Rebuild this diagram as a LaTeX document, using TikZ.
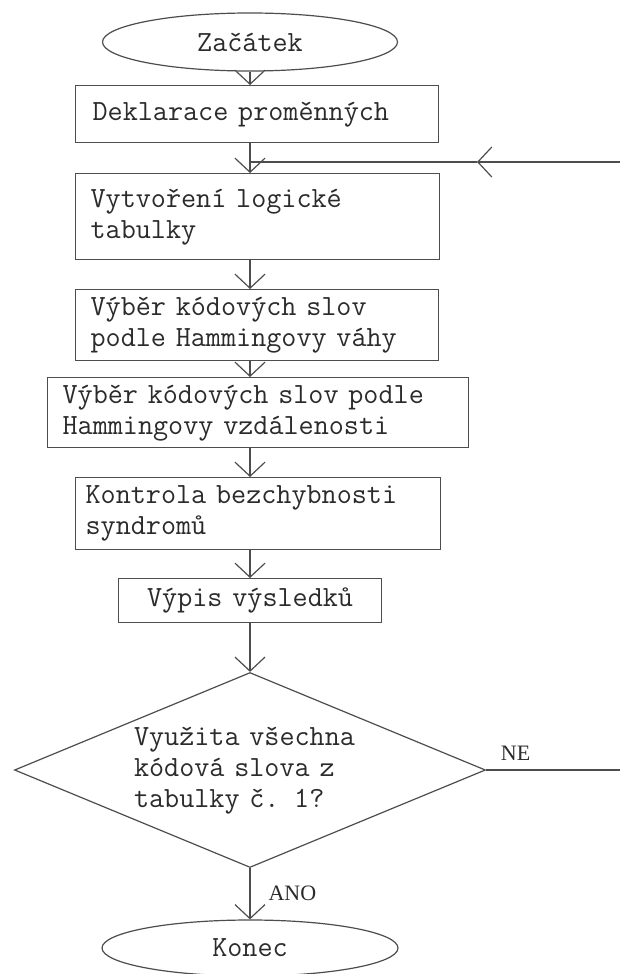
\documentclass[tikz,border=0pt]{standalone}
\usepackage{fontspec}
\setmainfont{Liberation Serif}
\usetikzlibrary{arrows.meta,shapes.geometric}
\definecolor{ink}{HTML}{2B2B2B}
\definecolor{edge}{HTML}{4D4D4D}
\begin{document}
\begin{tikzpicture}[x=1pt,y=-1pt,
  every node/.style={font=\ttfamily\fontsize{29.3}{31}\selectfont, text=ink},
  flowline/.style={draw=edge, line width=1.2pt},
  arr/.style={flowline, -{Straight Barb[length=14pt,width=30pt]}},
  stepbox/.style={draw=edge, line width=1.2pt, rectangle, anchor=north west,
    align=left, inner ysep=0pt},
  terminal/.style={draw=edge, line width=1.2pt, ellipse, inner sep=0pt},
  decision/.style={draw=edge, line width=1.2pt, diamond, inner sep=0pt,
    align=left, shape aspect=2.415},
  branch/.style={inner sep=0pt, font=\rmfamily\fontsize{22}{26}\selectfont}
]
\fill[white] (0,0) rectangle (620,974);
\useasboundingbox (0,0) rectangle (620,974);

% terminals, steps and the decision
\node[terminal, minimum width=295pt, minimum height=58pt] (start) at (250,42) {Začátek};
\node[stepbox, text width=329pt, inner xsep=17pt, minimum height=57pt] (decl) at (75,85)
  {Deklarace proměnných};
\node[stepbox, text width=334pt, inner xsep=15pt, minimum height=86pt] (table) at (75,173)
  {Vytvoření logické\\tabulky};
\node[stepbox, text width=333pt, inner xsep=15pt, minimum height=71pt] (weight) at (75,289)
  {Výběr kódových slov\\podle Hammingovy váhy};
\node[stepbox, text width=391pt, inner xsep=15pt, minimum height=70pt] (dist) at (47,377)
  {Výběr kódových slov podle\\Hammingovy vzdálenosti};
\node[stepbox, text width=345pt, inner xsep=10pt, minimum height=72pt] (synd) at (75,477)
  {Kontrola bezchybnosti\\syndromů};
\node[stepbox, align=center, text width=223pt, inner xsep=20pt, minimum height=44pt] (out) at (118,578)
  {Výpis výsledků};
\node[decision, minimum width=471pt, minimum height=195pt, text width=232pt] (dec) at (250,770)
  {Využita všechna\\kódová slova z\\tabulky č. 1?};
\node[terminal, minimum width=296pt, minimum height=56pt] (stop) at (250,948) {Konec};

% free ends of the loop back
\coordinate (ne) at (620,770);
\coordinate (fb) at (620,162);
\coordinate (fbtip) at (477,162);
\coordinate (join) at (250,162);

% main flow
\draw[arr] (start.south) -- (decl.north -| start);
\draw[arr] (decl.south -| start) -- (table.north -| start);
\draw[arr] (table.south -| start) -- (weight.north -| start);
\draw[arr] (weight.south -| start) -- (dist.north -| start);
\draw[arr] (dist.south -| start) -- (synd.north -| start);
\draw[arr] (synd.south -| start) -- (out.north -| start);
\draw[arr] (out.south -| start) -- (dec.north);
\draw[arr] (dec.south) -- node[branch, anchor=west, xshift=18pt] {ANO} (stop.north);

% loop back
\draw[flowline] (dec.east) -- node[branch, pos=0.22, anchor=south, yshift=9pt] {NE} (ne);
\draw[arr] (fb) -- (fbtip);
\draw[flowline] (fbtip) -- (join);
\end{tikzpicture}
\end{document}
